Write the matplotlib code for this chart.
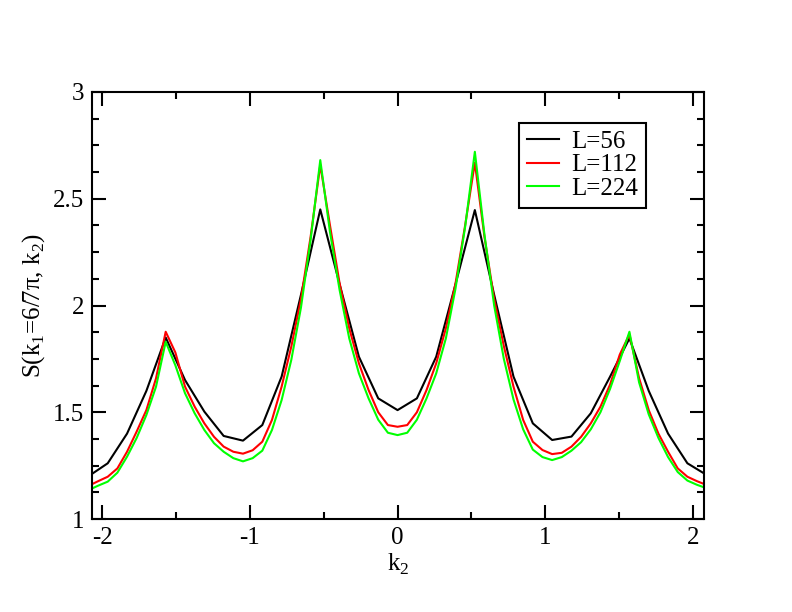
import numpy as np
import matplotlib
matplotlib.use("Agg")
import matplotlib.pyplot as plt
from matplotlib.ticker import MultipleLocator, FuncFormatter

plt.rcParams["font.family"] = ["Liberation Serif", "DejaVu Serif"]
plt.rcParams["mathtext.fontset"] = "custom"
plt.rcParams["mathtext.rm"] = "Liberation Serif"

# -------------------------
# Data
# -------------------------

# L=56 : k2 = n*pi/24, n = -16..16
n56 = np.arange(-16, 17)
s56 = [1.20, 1.261, 1.40, 1.60, 1.850, 1.651, 1.503, 1.389, 1.367, 1.44, 1.667,
       2.05, 2.45, 2.10, 1.76, 1.565, 1.51, 1.565, 1.76, 2.10, 2.447, 2.05,
       1.667, 1.448, 1.37, 1.386, 1.495, 1.667, 1.846, 1.60, 1.40, 1.261, 1.206]

# L=112 and L=224 : k2 = j*pi/48, j = -32..32
j112 = np.arange(-32, 33)
s112 = [1.155, 1.177, 1.198, 1.237, 1.315, 1.41, 1.51, 1.659, 1.877, 1.78, 1.62,
        1.526, 1.448, 1.385, 1.339, 1.315, 1.306, 1.322, 1.362, 1.464, 1.62,
        1.807, 2.03, 2.322, 2.658, 2.377, 2.104, 1.893, 1.729, 1.604, 1.50,
        1.44, 1.432,
        1.44, 1.50, 1.604, 1.729, 1.893, 2.104, 2.377, 2.669, 2.32, 2.03,
        1.81, 1.62, 1.464, 1.362, 1.323, 1.304, 1.31, 1.339, 1.385, 1.448,
        1.526, 1.63, 1.77, 1.865, 1.66, 1.51, 1.40, 1.315, 1.237, 1.198,
        1.177, 1.159]

j224 = np.arange(-32, 33)
s224 = [1.135, 1.156, 1.175, 1.217, 1.292, 1.38, 1.487, 1.62, 1.83, 1.72, 1.589,
        1.495, 1.417, 1.355, 1.315, 1.285, 1.27, 1.285, 1.32, 1.417, 1.557,
        1.745, 1.99, 2.307, 2.681, 2.346, 2.073, 1.846, 1.682, 1.565, 1.465,
        1.404, 1.393,
        1.404, 1.465, 1.565, 1.682, 1.846, 2.08, 2.37, 2.72, 2.33, 2.0,
        1.75, 1.56, 1.42, 1.325, 1.29, 1.276, 1.29, 1.32, 1.36, 1.42,
        1.50, 1.61, 1.74, 1.877, 1.64, 1.49, 1.38, 1.29, 1.22, 1.18,
        1.16, 1.144]

labels = ["L=56", "L=112", "L=224"]
colors = ["black", "#ff0000", "#00ff00"]

k56 = n56 * np.pi / 24
k112 = j112 * np.pi / 48
k224 = j224 * np.pi / 48

# -------------------------
# Plot
# -------------------------

fig = plt.figure(figsize=(7.92, 6.12), dpi=100)
ax = fig.add_axes([92.3 / 792, 1 - 519 / 612, (704 - 92.3) / 792, (519 - 92) / 612])

ax.plot(k56, s56, color=colors[0], lw=1.5, label=labels[0])
ax.plot(k112, s112, color=colors[1], lw=1.5, label=labels[1])
ax.plot(k224, s224, color=colors[2], lw=1.5, label=labels[2])

ax.set_xlim(-2.068, 2.076)
ax.set_ylim(1, 3)

ax.xaxis.set_major_locator(MultipleLocator(1))
ax.xaxis.set_minor_locator(MultipleLocator(0.5))
ax.yaxis.set_major_locator(MultipleLocator(0.5))
ax.yaxis.set_minor_locator(MultipleLocator(0.125))

fmt = FuncFormatter(lambda v, pos: "%g" % v)
ax.xaxis.set_major_formatter(fmt)
ax.yaxis.set_major_formatter(fmt)

ax.tick_params(which="both", direction="in", top=True, right=True,
               width=1.5, labelsize=18)
ax.tick_params(which="major", length=10, pad=6)
ax.tick_params(which="minor", length=5)
for sp in ax.spines.values():
    sp.set_linewidth(1.5)

ax.set_xlabel(r"k$_\mathregular{2}$", fontsize=18, labelpad=2)
ax.set_ylabel(r"S(k$_\mathregular{1}$=6/7π, k$_\mathregular{2}$)", fontsize=18, labelpad=4)

leg = ax.legend(loc="upper left", bbox_to_anchor=(519 / 792, 1 - 122.7 / 612),
                bbox_transform=fig.transFigure, borderaxespad=0, fontsize=18,
                handlelength=1.3, handletextpad=0.5, labelspacing=0.05,
                borderpad=0.3, fancybox=False, framealpha=1)
leg.get_frame().set_edgecolor("black")
leg.get_frame().set_linewidth(1.5)

plt.savefig("out.png", dpi=100)
